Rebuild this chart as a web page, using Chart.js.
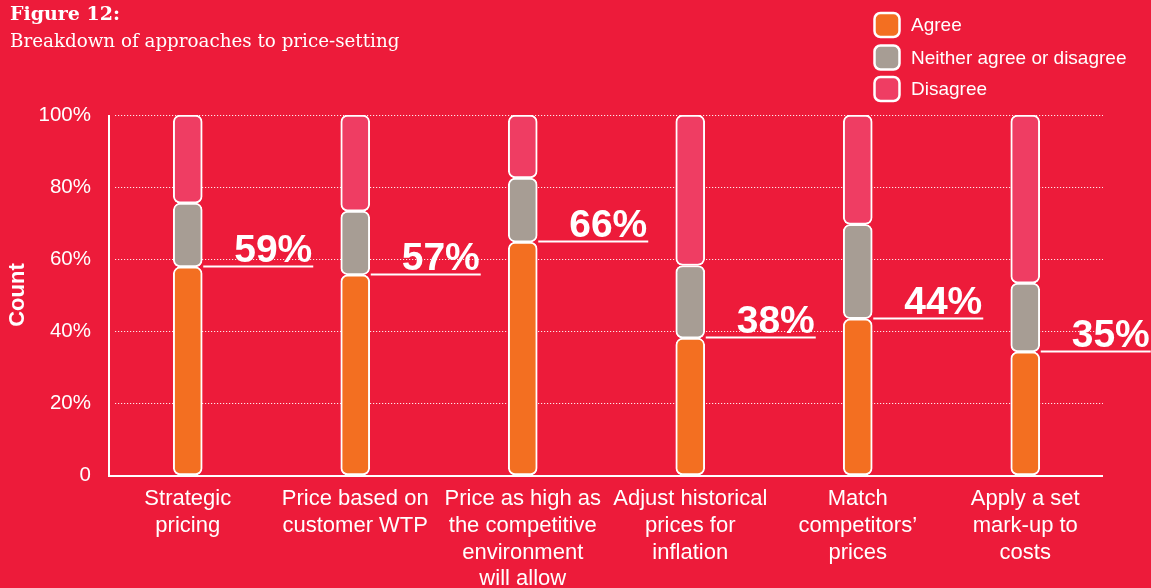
<!DOCTYPE html>
<html>
<head>
<meta charset="utf-8">
<script src="https://cdn.jsdelivr.net/npm/chart.js@4/dist/chart.umd.min.js"></script>
<style>
  html, body { margin: 0; padding: 0; background: #ED1B3A; }
  #wrap { width: 1151px; height: 588px; position: relative; }
</style>
</head>
<body>
<div id="wrap"><canvas id="c" width="1151" height="588"></canvas></div>
<script>
const categories = [
  ['Strategic', 'pricing'],
  ['Price based on', 'customer WTP'],
  ['Price as high as', 'the competitive', 'environment', 'will allow'],
  ['Adjust historical', 'prices for', 'inflation'],
  ['Match', 'competitors\u2019', 'prices'],
  ['Apply a set', 'mark-up to', 'costs']
];
const agree    = [57.8, 55.6, 64.7, 38.0, 43.4, 34.2];
const neither  = [17.7, 17.7, 17.8, 20.2, 26.2, 19.1];
const disagree = [24.5, 26.7, 17.5, 41.8, 30.4, 46.7];
const agreeLabels = ['59%', '57%', '66%', '38%', '44%', '35%'];
const yTickValues = [0, 20, 40, 60, 80, 100];
const yTickLabels = ['0', '20%', '40%', '60%', '80%', '100%'];
const seriesNames = ['Agree', 'Neither agree or disagree', 'Disagree'];
const titleText = 'Figure 12:';
const subtitleText = 'Breakdown of approaches to price-setting';
const yAxisTitle = 'Count';

const COL_AGREE = '#F36F21';
const COL_NEITHER = '#A79D94';
const COL_DISAGREE = '#EF3D63';
const WHITE = '#FFFFFF';
const SANS = '"Liberation Sans", Arial, sans-serif';
const SERIF = '"DejaVu Serif", serif';

const allCorners = { topLeft: 7, topRight: 7, bottomLeft: 7, bottomRight: 7 };

function ds(label, data, color) {
  return {
    label, data,
    backgroundColor: color,
    borderColor: WHITE,
    borderWidth: 2,
    borderRadius: allCorners,
    borderSkipped: false,
    barThickness: 29
  };
}

const decorPlugin = {
  id: 'decor',
  beforeDatasetsDraw(chart) {
    const ctx = chart.ctx;
    const y = chart.scales.y;
    ctx.save();
    ctx.strokeStyle = 'rgba(255,255,255,0.9)';
    ctx.lineWidth = 1;
    ctx.setLineDash([1.2, 1.8]);
    yTickValues.forEach(v => {
      if (v === 0) return;
      const py = Math.round(y.getPixelForValue(v)) + 0.5;
      ctx.beginPath();
      ctx.moveTo(115, py);
      ctx.lineTo(1103, py);
      ctx.stroke();
    });
    ctx.setLineDash([]);
    ctx.strokeStyle = WHITE;
    ctx.lineWidth = 2;
    const y0 = y.getPixelForValue(0);
    ctx.beginPath();
    ctx.moveTo(109, y.getPixelForValue(100));
    ctx.lineTo(109, y0 + 1);
    ctx.lineTo(1103, y0 + 1);
    ctx.stroke();
    ctx.restore();
  },
  afterDatasetsDraw(chart) {
    const ctx = chart.ctx;
    const meta = chart.getDatasetMeta(0);
    ctx.save();
    ctx.strokeStyle = WHITE;
    ctx.fillStyle = WHITE;
    ctx.lineWidth = 2;
    meta.data.forEach((bar, i) => {
      const x0 = bar.x + bar.width / 2 + 1;
      const x1 = x0 + 110;
      const py = Math.round(bar.y) - 0.5;
      ctx.beginPath();
      ctx.moveTo(x0, py);
      ctx.lineTo(x1, py);
      ctx.stroke();
      ctx.font = 'bold 39px ' + SANS;
      ctx.textAlign = 'right';
      ctx.textBaseline = 'alphabetic';
      ctx.fillText(agreeLabels[i], x1 - 1, py - 5);
    });
    ctx.restore();
  },
  afterDraw(chart) {
    const ctx = chart.ctx;
    ctx.save();
    ctx.fillStyle = WHITE;
    ctx.textAlign = 'left';
    ctx.textBaseline = 'alphabetic';
    ctx.font = 'bold 19px ' + SERIF;
    ctx.fillText(titleText, 10, 20);
    ctx.font = '18.3px ' + SERIF;
    ctx.fillText(subtitleText, 10, 47);
    const centers = [25, 57.5, 89];
    chart.data.datasets.forEach((d, i) => {
      const cy = centers[i];
      ctx.beginPath();
      ctx.roundRect(874.5, cy - 12, 25, 24, 6);
      ctx.fillStyle = d.backgroundColor;
      ctx.fill();
      ctx.strokeStyle = WHITE;
      ctx.lineWidth = 2.5;
      ctx.stroke();
      ctx.fillStyle = WHITE;
      ctx.font = '19px ' + SANS;
      ctx.textBaseline = 'middle';
      ctx.fillText(d.label, 911, cy + 1);
    });
    ctx.restore();
  }
};

new Chart(document.getElementById('c'), {
  type: 'bar',
  data: {
    labels: categories,
    datasets: [
      ds(seriesNames[0], agree, COL_AGREE),
      ds(seriesNames[1], neither, COL_NEITHER),
      ds(seriesNames[2], disagree, COL_DISAGREE)
    ]
  },
  options: {
    responsive: false,
    animation: false,
    devicePixelRatio: 1,
    layout: { padding: { top: 115, right: 42, bottom: 0, left: 0 } },
    plugins: {
      legend: { display: false },
      tooltip: { enabled: false },
      title: { display: false }
    },
    scales: {
      x: {
        stacked: true,
        grid: { display: false, drawTicks: false },
        border: { display: false },
        ticks: {
          color: WHITE,
          font: { family: SANS, size: 22, lineHeight: 1.21 },
          padding: 11,
          maxRotation: 0,
          autoSkip: false
        },
        afterFit(scale) { scale.height = 113; }
      },
      y: {
        stacked: true,
        min: 0,
        max: 100,
        afterBuildTicks(scale) { scale.ticks = yTickValues.map(v => ({ value: v })); },
        grid: { display: false, drawTicks: false },
        border: { display: false },
        ticks: {
          color: WHITE,
          font: { family: SANS, size: 20.5 },
          padding: 13,
          callback(v) { return yTickLabels[yTickValues.indexOf(v)]; }
        },
        title: {
          display: true,
          text: yAxisTitle,
          color: WHITE,
          font: { family: SANS, size: 22, weight: 'bold' },
          padding: { top: 5, bottom: 0 }
        },
        afterFit(scale) { scale.width = 104; }
      }
    }
  },
  plugins: [decorPlugin]
});
</script>
</body>
</html>
